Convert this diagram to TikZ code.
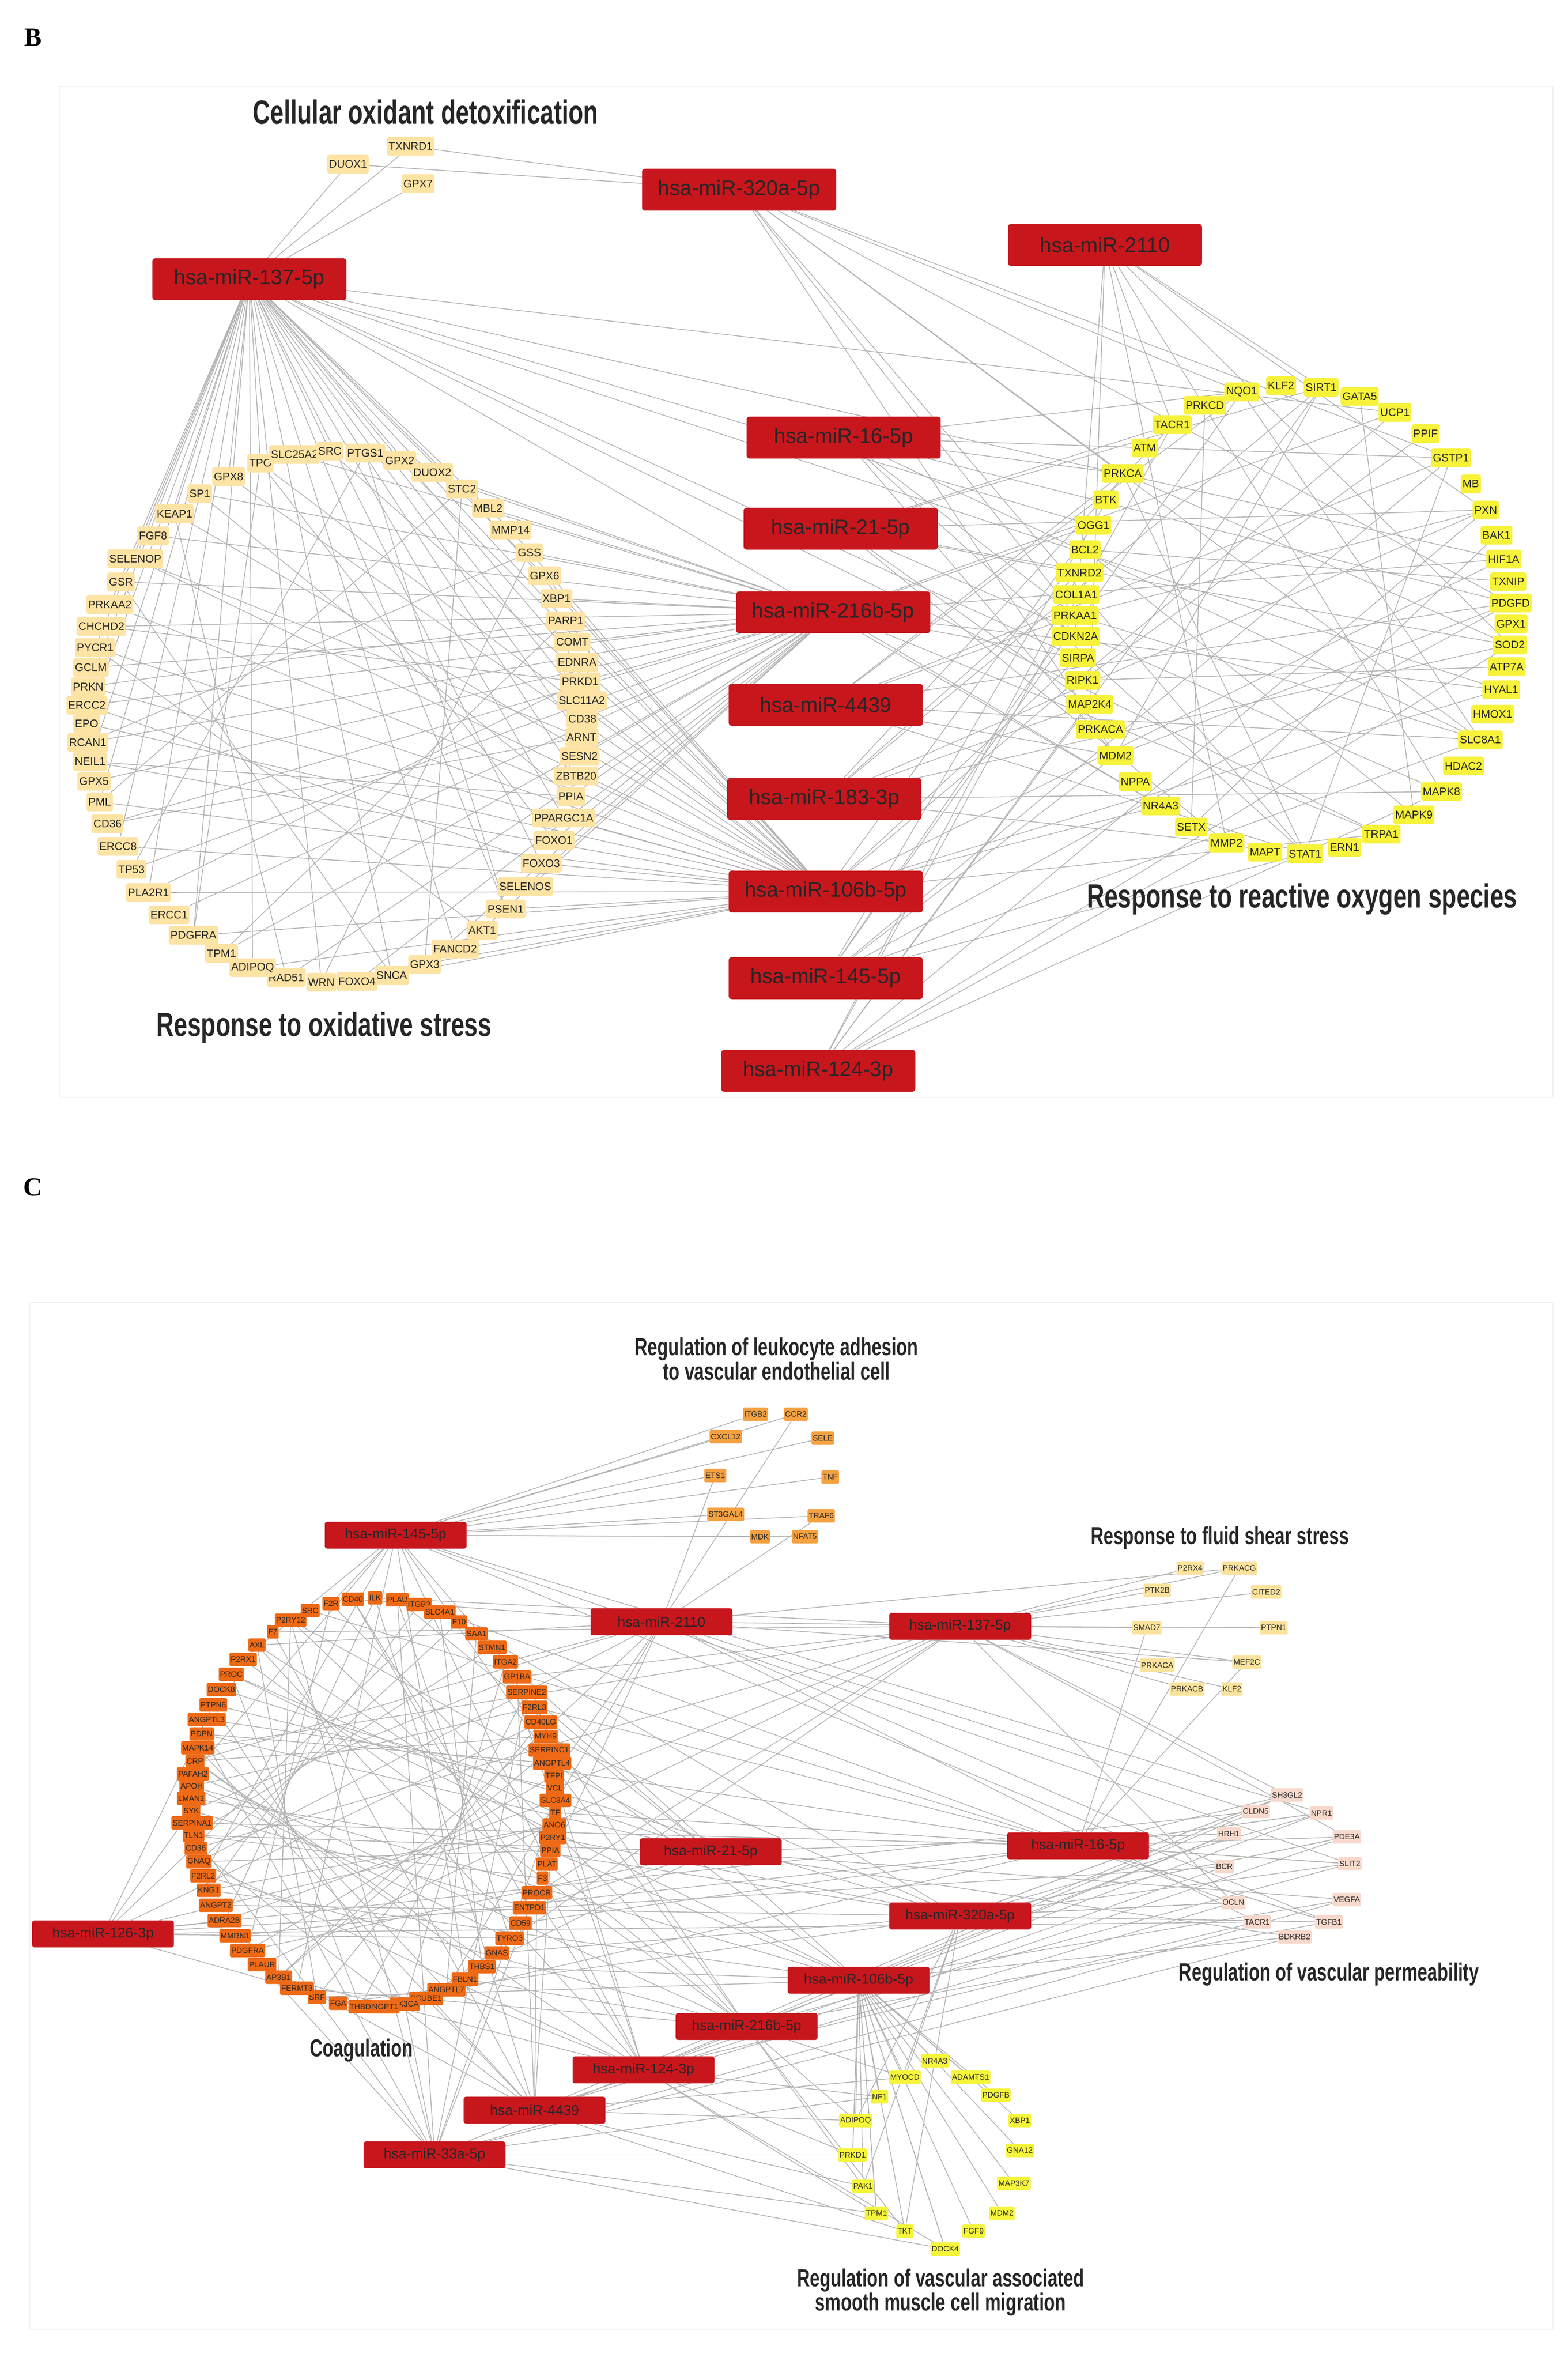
\documentclass[tikz,border=0pt]{standalone}
\usepackage{fontspec}
\setmainfont{Liberation Sans}
\newfontfamily\tit{Liberation Sans}[FakeStretch=0.72]
\newfontfamily\ser{Liberation Serif}
\pgfdeclarelayer{back}
\pgfdeclarelayer{bg}
\pgfsetlayers{back,bg,main}
\definecolor{mired}{HTML}{C8161D}
\definecolor{gpale}{HTML}{FDE3A4}
\definecolor{gyel}{HTML}{F7F23A}
\definecolor{gor}{HTML}{F5A142}
\definecolor{gcoag}{HTML}{EE6A16}
\definecolor{gshear}{HTML}{FBE39E}
\definecolor{gperm}{HTML}{F7D9CC}
\definecolor{gsmc}{HTML}{F5F53C}
\begin{document}
\begin{tikzpicture}[x=1mm,y=-1mm,
  mir/.style={fill=mired,rounded corners=2mm,text=black!85,minimum width=130mm,minimum height=28mm,font=\fontsize{40}{44}\selectfont},
  mirc/.style={fill=mired,rounded corners=1.5mm,text=black!85,minimum width=95mm,minimum height=18mm,font=\fontsize{27}{30}\selectfont},
  gb/.style={rounded corners=1.5mm,inner sep=1.2mm,minimum height=12.5mm,font=\fontsize{21}{23}\selectfont,text=black!85},
  gc/.style={rounded corners=1mm,inner sep=0.8mm,minimum height=9mm,font=\fontsize{15}{17}\selectfont,text=black!85},
  ttl/.style={font=\tit\bfseries\fontsize{64}{70}\selectfont,text=black!85,align=center},
  ttc/.style={font=\tit\bfseries\fontsize{47}{52}\selectfont,text=black!85,align=center},
  ed/.style={draw=gray!60,line width=0.5mm}]
\useasboundingbox (0,0) rectangle (1050,1581);
\begin{pgfonlayer}{back}
\fill[white] (0,0) rectangle (1050,1581);
\draw[gray!12,line width=0.6mm] (40,58) rectangle (1040,735);
\draw[gray!10,line width=0.6mm] (20,872) rectangle (1040,1560);
\end{pgfonlayer}
\node[font=\ser\bfseries\fontsize{50}{56}\selectfont] (lb) at (22,25) {B};
\node[font=\ser\bfseries\fontsize{50}{56}\selectfont] (lc) at (22,795) {C};
% ---------------- Panel B ----------------
\node[ttl] (tb1) at (285,75) {Cellular oxidant detoxification};
\node[ttl] (tb2) at (872,602) {Response to reactive oxygen species};
\node[ttl] (tb3) at (217,688) {Response to oxidative stress};
\node[gb,fill=gpale] (T1) at (233,110) {DUOX1};
\node[gb,fill=gpale] (T2) at (275,98) {TXNRD1};
\node[gb,fill=gpale] (T3) at (280,123) {GPX7};
\node[mir] (m320) at (495,127) {hsa-miR-320a-5p};
\node[mir] (m2110) at (740,164) {hsa-miR-2110};
\node[mir] (m137) at (167,187) {hsa-miR-137-5p};
\node[mir] (m16) at (565,293) {hsa-miR-16-5p};
\node[mir] (m21) at (563,354) {hsa-miR-21-5p};
\node[mir] (m216) at (558,410) {hsa-miR-216b-5p};
\node[mir] (m4439) at (553,472) {hsa-miR-4439};
\node[mir] (m183) at (552,535) {hsa-miR-183-3p};
\node[mir] (m106) at (553,597) {hsa-miR-106b-5p};
\node[mir] (m145) at (553,655) {hsa-miR-145-5p};
\node[mir] (m124) at (548,717) {hsa-miR-124-3p};
\foreach \g [count=\i] in {TPO,SLC25A2,SRC,PTGS1,GPX2,DUOX2,STC2,MBL2,MMP14,GSS,GPX6,XBP1,PARP1,COMT,EDNRA,PRKD1,SLC11A2,CD38,ARNT,SESN2,ZBTB20,PPIA,PPARGC1A,FOXO1,FOXO3,SELENOS,PSEN1,AKT1,FANCD2,GPX3,SNCA,FOXO4,WRN,RAD51,ADIPOQ,TPM1,PDGFRA,ERCC1,PLA2R1,TP53,ERCC8,CD36,PML,GPX5,NEIL1,RCAN1,EPO,ERCC2,PRKN,GCLM,PYCR1,CHCHD2,PRKAA2,GSR,SELENOP,FGF8,KEAP1,SP1,GPX8}{
  \pgfmathsetmacro\u{103-(\i-1)*6.1017}
  \pgfmathsetmacro\a{\u-10*sin(2*\u)}
  \node[gb,fill=gpale] (L\i) at ({224+166*cos(\a)},{480-178*sin(\a)}) {\g};
}
\foreach \g [count=\i] in {PRKCD,NQO1,KLF2,SIRT1,GATA5,UCP1,PPIF,GSTP1,MB,PXN,BAK1,HIF1A,TXNIP,PDGFD,GPX1,SOD2,ATP7A,HYAL1,HMOX1,SLC8A1,HDAC2,MAPK8,MAPK9,TRPA1,ERN1,STAT1,MAPT,MMP2,SETX,NR4A3,NPPA,MDM2,PRKACA,MAP2K4,RIPK1,SIRPA,CDKN2A,PRKAA1,COL1A1,TXNRD2,BCL2,OGG1,BTK,PRKCA,ATM,TACR1}{
  \pgfmathsetmacro\u{108-(\i-1)*7.8261}
  \pgfmathsetmacro\a{\u-10*sin(2*\u)}
  \node[gb,fill=gyel] (R\i) at ({866+146*cos(\a)},{415-157*sin(\a)}) {\g};
}
% ---------------- Panel C ----------------
\node[ttc] (tc1) at (520,910) {Regulation of leukocyte adhesion\\[-2mm]to vascular endothelial cell};
\node[ttc] (tc2) at (817,1030) {Response to fluid shear stress};
\node[ttc] (tc3) at (890,1322) {Regulation of vascular permeability};
\node[ttc] (tc4) at (242,1373) {Coagulation};
\node[ttc] (tc5) at (630,1535) {Regulation of vascular associated\\[-2mm]smooth muscle cell migration};
\node[mirc] (c145) at (265,1028) {hsa-miR-145-5p};
\node[mirc] (c2110) at (443,1086) {hsa-miR-2110};
\node[mirc] (c137) at (643,1089) {hsa-miR-137-5p};
\node[mirc] (c21) at (476,1240) {hsa-miR-21-5p};
\node[mirc] (c16) at (722,1236) {hsa-miR-16-5p};
\node[mirc] (c126) at (69,1295) {hsa-miR-126-3p};
\node[mirc] (c320) at (643,1283) {hsa-miR-320a-5p};
\node[mirc] (c106) at (575,1326) {hsa-miR-106b-5p};
\node[mirc] (c216) at (500,1357) {hsa-miR-216b-5p};
\node[mirc] (c124) at (431,1386) {hsa-miR-124-3p};
\node[mirc] (c4439) at (358,1413) {hsa-miR-4439};
\node[mirc] (c33) at (291,1443) {hsa-miR-33a-5p};
\foreach \g/\x/\y [count=\i] in {ITGB2/506/947,CCR2/533/947,CXCL12/486/962,SELE/551/963,ETS1/479/988,TNF/556/989,ST3GAL4/486/1014,TRAF6/550/1015,MDK/509/1029,NFAT5/539/1029}
  \node[gc,fill=gor] (K\i) at (\x,\y) {\g};
\foreach \g/\x/\y [count=\i] in {P2RX4/797/1050,PRKACG/830/1050,PTK2B/775/1065,CITED2/848/1066,SMAD7/768/1090,PTPN1/853/1090,PRKACA/775/1115,MEF2C/835/1113,PRKACB/795/1131,KLF2/825/1131}
  \node[gc,fill=gshear] (S\i) at (\x,\y) {\g};
\foreach \g/\x/\y [count=\i] in {SH3GL2/862/1202,CLDN5/841/1213,NPR1/885/1214,HRH1/823/1228,PDE3A/902/1230,BCR/820/1250,SLIT2/904/1248,VEGFA/902/1272,OCLN/826/1274,TACR1/842/1287,TGFB1/890/1287,BDKRB2/867/1297}
  \node[gc,fill=gperm] (V\i) at (\x,\y) {\g};
\foreach \g/\x/\y [count=\i] in {NR4A3/626/1380,MYOCD/606/1391,ADAMTS1/650/1391,NF1/589/1404,PDGFB/667/1403,ADIPOQ/573/1420,XBP1/683/1420,PRKD1/571/1443,GNA12/683/1440,PAK1/578/1464,MAP3K7/679/1462,TPM1/587/1482,MDM2/671/1482,TKT/606/1494,FGF9/652/1494,DOCK4/633/1506}
  \node[gc,fill=gsmc] (M\i) at (\x,\y) {\g};
\foreach \g [count=\i] in {F2R,CD40,ILK,PLAU,ITGB3,SLC4A1,F10,SAA1,STMN1,ITGA2,GP1BA,SERPINE2,F2RL3,CD40LG,MYH9,SERPINC1,ANGPTL4,TFPI,VCL,SLC8A4,TF,ANO6,P2RY1,PPIA,PLAT,F3,PROCR,ENTPD1,CD59,TYRO3,GNAS,THBS1,FBLN1,ANGPTL7,SCUBE1,PIK3CA,ANGPT1,THBD,FGA,SRF,FERMT3,AP3B1,PLAUR,PDGFRA,MMRN1,ADRA2B,ANGPT2,KNG1,F2RL2,GNAQ,CD36,TLN1,SERPINA1,SYK,LMAN1,APOH,PAFAH2,CRP,MAPK14,PDPN,ANGPTL3,PTPN6,DOCK8,PROC,P2RX1,AXL,F7,P2RY12,SRC}{
  \pgfmathsetmacro\u{100-(\i-1)*5.2174}
  \pgfmathsetmacro\a{\u-10*sin(2*\u)}
  \node[gc,fill=gcoag] (G\i) at ({250+122*cos(\a)},{1207-137*sin(\a)}) {\g};
}
% ---------------- Edges ----------------
\begin{pgfonlayer}{bg}
\draw[ed] (m137) -- (T1); \draw[ed] (m137) -- (T2); \draw[ed] (m137) -- (T3);
\draw[ed] (m320) -- (T2); \draw[ed] (m320) -- (T1);
\foreach \m [count=\j] in {m320,m2110,m137,m16,m21,m216,m4439,m183,m106,m145,m124}{
  \foreach \i in {1,...,59}{
    \pgfmathtruncatemacro\r{mod(\i*3+\j*5,6)}
    \ifnum\r=0 \draw[ed] (\m) -- (L\i); \fi
  }
  \foreach \i in {1,...,46}{
    \pgfmathtruncatemacro\r{mod(\i*5+\j*2,6)}
    \ifnum\r=0 \draw[ed] (\m) -- (R\i); \fi
  }
}
\foreach \i in {1,4,...,58}{
  \pgfmathtruncatemacro\k{mod(\i+22,59)+1}
  \draw[ed] (L\i) -- (L\k);
}
\foreach \i in {2,5,...,45}{
  \pgfmathtruncatemacro\k{mod(\i+17,46)+1}
  \draw[ed] (R\i) -- (R\k);
}
\foreach \m [count=\j] in {c145,c2110,c137,c21,c16,c126,c320,c106,c216,c124,c4439,c33}{
  \foreach \i in {1,...,69}{
    \pgfmathtruncatemacro\r{mod(\i*5+\j*3,8)}
    \ifnum\r=0 \draw[ed] (\m) -- (G\i); \fi
  }
  \foreach \i in {1,...,16}{
    \pgfmathtruncatemacro\r{mod(\i+\j*2,4)}
    \ifnum\j>6 \ifnum\r=0 \draw[ed] (\m) -- (M\i); \fi \fi
  }
  \foreach \i in {1,...,12}{
    \pgfmathtruncatemacro\r{mod(\i+\j,4)}
    \ifnum\r=0 \draw[ed] (\m) -- (V\i); \fi
  }
}
\foreach \i in {1,...,10}{\draw[ed] (c145) -- (K\i); \draw[ed] (c137) -- (S\i);}
\foreach \i in {2,5,8}{\draw[ed] (c2110) -- (K\i); \draw[ed] (c2110) -- (S\i); \draw[ed] (c16) -- (S\i);}
\foreach \i in {1,3,...,12}{\draw[ed] (c320) -- (V\i); \draw[ed] (c16) -- (V\i);}
\foreach \i in {1,...,16}{\draw[ed] (c106) -- (M\i);}
\foreach \i in {2,4,...,68}{
  \pgfmathtruncatemacro\k{mod(\i+25,69)+1}
  \draw[ed] (G\i) -- (G\k);
}
\end{pgfonlayer}
\end{tikzpicture}
\end{document}
